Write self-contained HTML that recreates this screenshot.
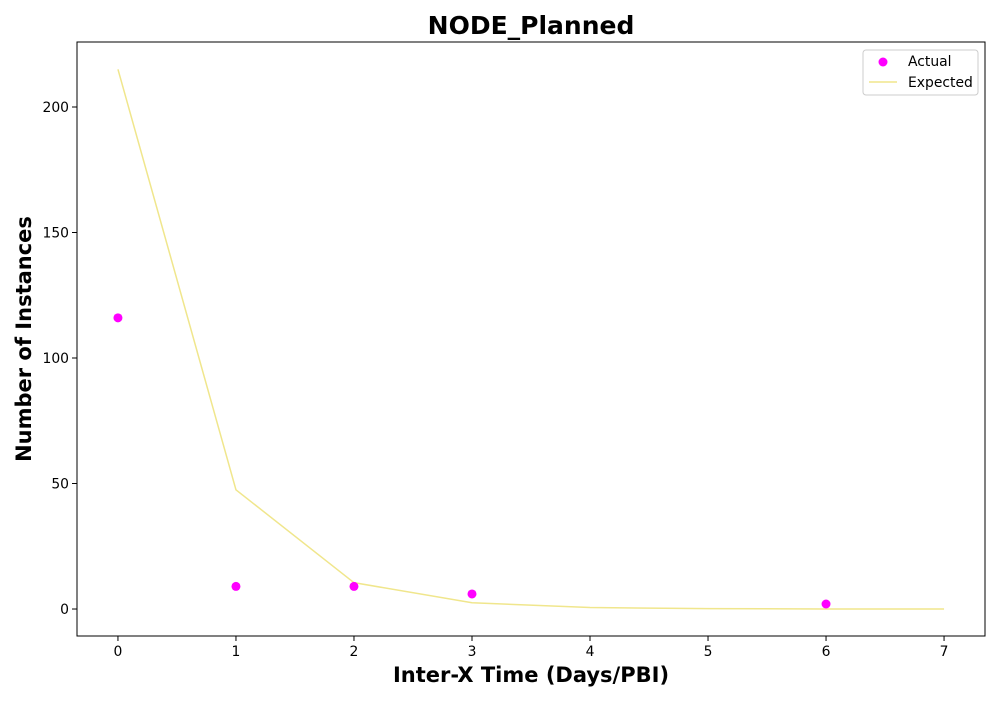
<!DOCTYPE html>
<html><head><meta charset="utf-8"><style>
body{margin:0;background:#fff;}
svg text{font-family:"DejaVu Sans","Liberation Sans",sans-serif;}
</style></head><body>
<svg id="chart" width="1000" height="700" xmlns="http://www.w3.org/2000/svg">
<rect width="1000" height="700" fill="#fff"/>
<text x="531" y="34" text-anchor="middle" font-size="25" font-weight="bold">NODE_Planned</text>
<text x="531" y="682" text-anchor="middle" font-size="21" font-weight="bold">Inter-X Time (Days/PBI)</text>
<text transform="translate(31,339) rotate(-90)" text-anchor="middle" font-size="21" font-weight="bold">Number of Instances</text>
<g id="plot"></g>
<rect x="77" y="42" width="908" height="594" fill="none" stroke="#000" stroke-width="1"/>
<g>
<rect x="863" y="50" width="115" height="45" rx="3" fill="#fff" stroke="#ccc"/>
<circle cx="883" cy="62" r="4.5" fill="#ff00ff"/>
<text x="908" y="66" font-size="13.9">Actual</text>
<line x1="869" y1="82" x2="897" y2="82" stroke="#f0e68c" stroke-width="1.5"/>
<text x="908" y="87" font-size="13.9">Expected</text>
</g>
</svg>
<script>
const xTicks=[0,1,2,3,4,5,6,7];
const yTicks=[0,50,100,150,200];
const actualX=[0,1,2,3,6];
const actualY=[116,9,9,6,2];
const expectedX=[0,1,2,3,4,5,6,7];
const expectedY=[215,47.5,10.5,2.5,0.6,0.15,0.03,0];
const L=77,R=985,T=42,B=636,xmin=-0.347,xmax=7.347,ymin=-10.75,ymax=225.9;
const sx=v=>L+(v-xmin)/(xmax-xmin)*(R-L);
const sy=v=>B-(v-ymin)/(ymax-ymin)*(B-T);
const NS="http://www.w3.org/2000/svg";
const g=document.getElementById('plot');
function mk(t,a){const e=document.createElementNS(NS,t);for(const k in a)e.setAttribute(k,a[k]);g.appendChild(e);return e;}
xTicks.forEach(v=>{
  const l=mk('line',{x1:sx(v),x2:sx(v),y1:B,y2:B+5,stroke:'#000'});
  
  
  const t=mk('text',{x:sx(v),y:B+20,'text-anchor':'middle','font-size':13.9});
  
  
  t.textContent=v;
});
yTicks.forEach(v=>{
  const l=mk('line',{x1:L-5,x2:L,y1:sy(v),y2:sy(v),stroke:'#000'});
  
  
  const t=mk('text',{x:L-8,y:sy(v)+5,'text-anchor':'end','font-size':13.9});
  
  
  t.textContent=v;
});
const pl=mk('polyline',{points:expectedX.map((x,i)=>sx(x)+','+sy(expectedY[i])).join(' '),fill:'none',stroke:'#f0e68c','stroke-width':1.5});


actualX.forEach((x,i)=>{
  const c=mk('circle',{cx:sx(x),cy:sy(actualY[i]),r:4.5,fill:'#ff00ff'});
  
  
});
</script>
</body></html>
